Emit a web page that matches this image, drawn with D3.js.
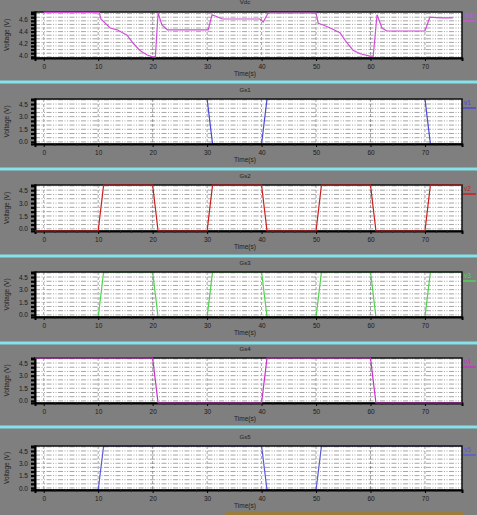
<!DOCTYPE html>
<html lang="en">
<head>
<meta charset="UTF-8">
<title>Voltage traces</title>
<style>
body { margin: 0; background: #808080; }
svg { display: block; }
text { font-family: "Liberation Sans", Arial, sans-serif; }
</style>
</head>
<body>
<svg id="chart"></svg>
<script src="https://cdn.jsdelivr.net/npm/d3@7"></script>
<script>
// time axis
var xTicks = [0, 10, 20, 30, 40, 50, 60, 70];
var tStart = -1.6, tEnd = 76.8;

// panel 1 - bus voltage
var busTime = [0, 10.2, 10.5, 12.2, 13.5, 15.3, 16.4, 17.6, 19.0, 20.0, 20.5, 21.0, 21.7, 22.7, 30.2, 30.9, 31.5, 32.8, 39.7, 40.3, 41.2, 50.0, 50.4, 51.3, 52.6, 54.4, 55.7, 56.8, 58.1, 59.9, 60.5, 61.2, 62.1, 63.0, 70.0, 70.9, 72.8, 75.1];
var busVolt = [4.71, 4.71, 4.60, 4.45, 4.42, 4.33, 4.20, 4.08, 4.00, 3.97, 3.97, 4.70, 4.50, 4.42, 4.42, 4.67, 4.65, 4.60, 4.60, 4.55, 4.70, 4.70, 4.53, 4.50, 4.45, 4.37, 4.20, 4.08, 4.02, 3.98, 3.98, 4.67, 4.45, 4.40, 4.40, 4.63, 4.62, 4.62];
var busTicks = [4.0, 4.2, 4.4, 4.6];

// gate signals
var gateTicks = [0, 1.5, 3.0, 4.5];
var hi = 5.1, lo = -0.25;

var g1Time = [tStart, 30, 31, 40, 41, 70, 71, tEnd];
var g1Volt = [hi, hi, lo, lo, hi, hi, lo, lo];

var g2Time = [tStart, 10, 11, 20, 21, 30, 31, 40, 41, 50, 51, 60, 61, 70, 71, tEnd];
var g2Volt = [lo, lo, hi, hi, lo, lo, hi, hi, lo, lo, hi, hi, lo, lo, hi, hi];

var g3Time = [tStart, 10, 11, 20, 21, 30, 31, 40, 41, 50, 51, 60, 61, 70, 71, tEnd];
var g3Volt = [lo, lo, hi, hi, lo, lo, hi, hi, lo, lo, hi, hi, lo, lo, hi, hi];

var g4Time = [tStart, 20, 21, 40, 41, 60, 61, tEnd];
var g4Volt = [hi, hi, lo, lo, hi, hi, lo, lo];

var g5Time = [tStart, 10, 11, 40, 41, 50, 51, tEnd];
var g5Volt = [lo, lo, hi, hi, lo, lo, hi, hi];

var W = 477, H = 515;
var left = 35, right = 462;

var panels = [
  {top: 12, title: "Vdc", legend: "Vdc", time: busTime, volt: busVolt, domain: [3.95, 4.717],
   ticks: busTicks, grid: d3.range(3.97, 4.72, 0.06), color: "#d050d8", over: true, h: 46},
  {top: 99, title: "Gs1", legend: "v1", time: g1Time, volt: g1Volt, domain: [lo, hi],
   ticks: gateTicks, grid: d3.range(0, 5.01, 0.5), color: "#4a4ad0", over: false, h: 45},
  {top: 185, title: "Gs2", legend: "v2", time: g2Time, volt: g2Volt, domain: [lo, hi],
   ticks: gateTicks, grid: d3.range(0, 5.01, 0.5), color: "#cc1c1c", over: true, h: 46},
  {top: 272, title: "Gs3", legend: "v3", time: g3Time, volt: g3Volt, domain: [lo, hi],
   ticks: gateTicks, grid: d3.range(0, 5.01, 0.5), color: "#50d450", over: false, h: 45},
  {top: 358, title: "Gs4", legend: "v4", time: g4Time, volt: g4Volt, domain: [lo, hi],
   ticks: gateTicks, grid: d3.range(0, 5.01, 0.5), color: "#c830c8", over: true, h: 45},
  {top: 446, title: "Gs5", legend: "v5", time: g5Time, volt: g5Volt, domain: [lo, hi],
   ticks: gateTicks, grid: d3.range(0, 5.01, 0.5), color: "#5a5ad8", over: false, h: 44}
];
var separators = [82, 169, 256, 343, 427];

var svg = d3.select("#chart").attr("width", W).attr("height", H);

svg.append("rect").attr("width", W).attr("height", H).attr("fill", "#7f7f7f");

var x = d3.scaleLinear().domain([tStart, tEnd]).range([left, right]);
var minorX = d3.range(0, 76, 2).filter(function(t) { return t % 10 != 0; });

panels.forEach(function(p, i) {
  var g = svg.append("g");
  var y = d3.scaleLinear().domain(p.domain).range([p.top + p.h, p.top]);
  var pad = p.over ? 1 : 0;

  g.append("clipPath").attr("id", "clip" + i)
    .append("rect").attr("x", left - pad).attr("y", p.top - pad)
    .attr("width", right - left + 2 * pad).attr("height", p.h + 2 * pad);

  g.append("rect")
    .attr("x", left).attr("y", p.top)
    .attr("width", right - left).attr("height", p.h)
    .attr("fill", "#fff");

  // vertical dashed grid
  g.selectAll(".vg").data(xTicks).enter().append("line")
    .attr("x1", function(d) { return x(d); }).attr("x2", function(d) { return x(d); })
    .attr("y1", p.top).attr("y2", p.top + p.h)
    .attr("stroke", "#9a9a9a").attr("stroke-width", 0.9)
    .attr("stroke-dasharray", "3,2");

  // horizontal dotted grid
  g.selectAll(".hg").data(p.grid).enter().append("line")
    .attr("x1", left).attr("x2", right)
    .attr("y1", function(d) { return y(d); }).attr("y2", function(d) { return y(d); })
    .attr("stroke", "#6a6a6a").attr("stroke-width", 0.6)
    .attr("stroke-dasharray", "5,1.5,1,1.5,1,1.5");

  var line = d3.line()
    .x(function(d) { return x(d[0]); })
    .y(function(d) { return y(d[1]); });
  var pts = p.time.map(function(t, k) { return [t, p.volt[k]]; });

  function trace() {
    g.append("path").datum(pts)
      .attr("d", line)
      .attr("clip-path", "url(#clip" + i + ")")
      .attr("fill", "none")
      .attr("stroke", p.color)
      .attr("stroke-width", 1.2);
  }

  if (!p.over) trace();

  // frame
  g.append("rect")
    .attr("x", left).attr("y", p.top)
    .attr("width", right - left).attr("height", p.h)
    .attr("fill", "none").attr("stroke", "#111").attr("stroke-width", 1.5);

  // y axis: heavy ticks at grid lines
  var yTickAxis = d3.axisLeft(y).tickValues(p.grid).tickSize(4).tickFormat("");
  var ya = g.append("g").attr("transform", "translate(" + left + ",0)").call(yTickAxis);
  ya.select(".domain").attr("stroke", "#000").attr("stroke-width", 2);
  ya.selectAll(".tick line").attr("stroke", "#000").attr("stroke-width", 2.2);

  var yLab = d3.axisLeft(y).tickValues(p.ticks).tickSize(0).tickPadding(7).tickFormat(d3.format(".1f"));
  var yl = g.append("g").attr("transform", "translate(" + left + ",0)").call(yLab);
  yl.select(".domain").remove();
  yl.selectAll("text").style("font-size", "6.5px").attr("fill", "#1a1a1a");

  // x axis
  var xa = g.append("g").attr("transform", "translate(0," + (p.top + p.h) + ")")
    .call(d3.axisBottom(x).tickValues(xTicks).tickSize(3).tickPadding(3).tickFormat(d3.format("d")));
  xa.select(".domain").attr("stroke", "#000").attr("stroke-width", 2);
  xa.selectAll("text").style("font-size", "6.5px").attr("fill", "#1a1a1a");
  xa.selectAll(".tick line").attr("stroke", "#000");

  var xm = g.append("g").attr("transform", "translate(0," + (p.top + p.h) + ")")
    .call(d3.axisBottom(x).tickValues(minorX).tickSize(2).tickFormat(""));
  xm.select(".domain").remove();
  xm.selectAll(".tick line").attr("stroke", "#222");

  if (p.over) trace();

  // labels
  g.append("text")
    .attr("x", 245).attr("y", i == 0 ? 4 : p.top - 7)
    .attr("text-anchor", "middle")
    .style("font-size", "6px").attr("fill", "#1e1e1e")
    .text(p.title);

  g.append("text")
    .attr("x", 245).attr("y", p.top + p.h + 18)
    .attr("text-anchor", "middle")
    .style("font-size", "6.5px").attr("fill", "#1e1e1e")
    .text("Time(s)");

  g.append("text")
    .attr("transform", "translate(9," + (p.top + p.h / 2) + ") rotate(-90)")
    .attr("text-anchor", "middle")
    .style("font-size", "6.5px").attr("fill", "#1e1e1e")
    .text("Voltage (V)");

  // legend
  g.append("text")
    .attr("x", 464).attr("y", p.top + 6)
    .style("font-size", "6.5px").attr("fill", p.color)
    .text(p.legend);
  g.append("line")
    .attr("x1", 463).attr("x2", 476)
    .attr("y1", p.top + 9).attr("y2", p.top + 9)
    .attr("stroke", p.color).attr("stroke-width", 1.5);
});

// cyan separators
svg.selectAll(".sep").data(separators).enter().append("rect")
  .attr("x", 0).attr("y", function(d) { return d - 1.5; })
  .attr("width", W).attr("height", 3)
  .attr("fill", "#84e2ea");

// status bar strip at the bottom
svg.append("rect")
  .attr("x", 225).attr("y", 512).attr("width", 238).attr("height", 3)
  .attr("fill", "#9a7d3e");
</script>
</body>
</html>
